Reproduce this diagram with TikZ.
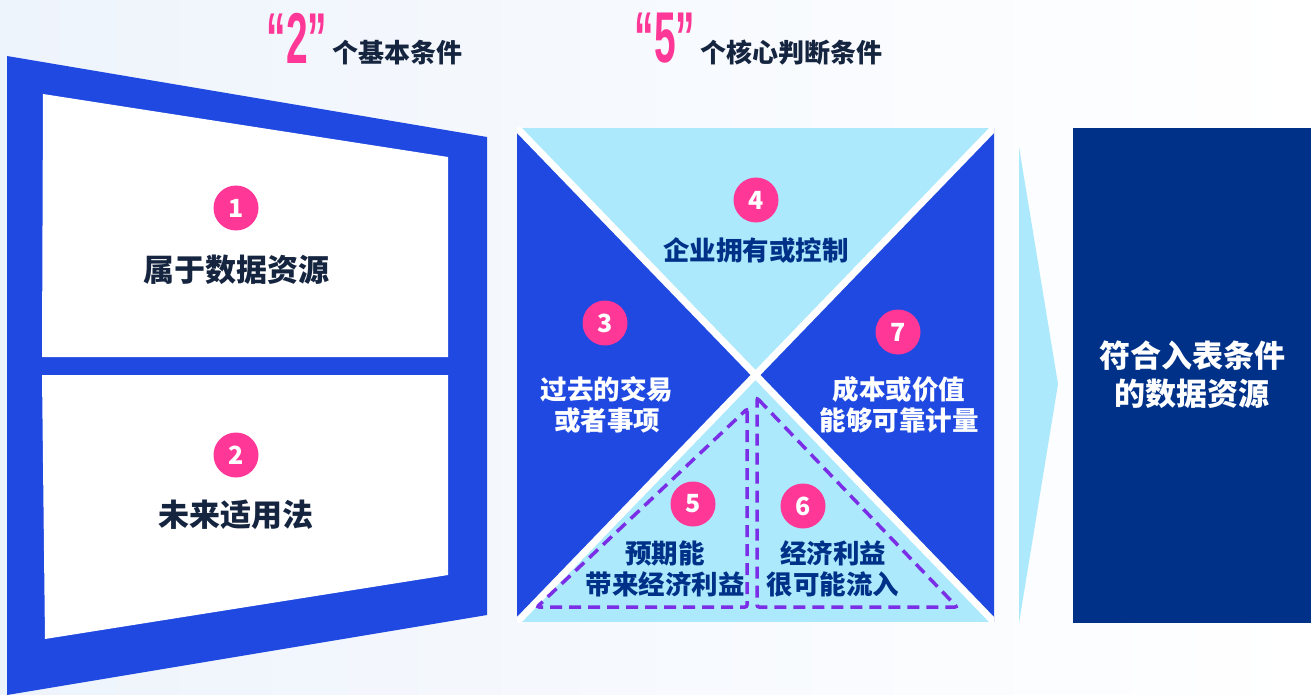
\documentclass[tikz,border=0pt]{standalone}
\usepackage{fontspec}
\newfontfamily\cjk{Noto Sans CJK SC}
\newfontfamily\numf{Liberation Sans}
\definecolor{frameblue}{HTML}{1F49E0}
\definecolor{lightblue}{HTML}{ADE9FC}
\definecolor{navybox}{HTML}{003189}
\definecolor{mypink}{HTML}{FF3797}
\definecolor{darktext}{HTML}{15253F}
\definecolor{dashpurple}{HTML}{7A2FE6}
\definecolor{bgleft}{HTML}{EEF4FC}
\begin{document}
\begin{tikzpicture}[x=1pt,y=-1pt,
  numdot/.style={circle, fill=mypink, minimum size=45pt, inner sep=0pt, text=white,
    font=\cjk\bfseries\fontsize{25}{25}\selectfont},
  paneltext/.style={font=\cjk\bfseries\fontsize{31}{38}\selectfont, text=darktext, align=center, inner sep=0pt},
  sqtext/.style={font=\cjk\bfseries\fontsize{26.5}{31.5}\selectfont, text=white, align=center, inner sep=0pt},
  sqdark/.style={sqtext, text=navybox},
  titletext/.style={font=\cjk\bfseries\fontsize{26}{26}\selectfont, text=darktext, inner sep=0pt, anchor=base west},
  bignum/.style={font=\numf\bfseries\fontsize{72}{72}\selectfont, text=mypink, inner sep=0pt},
  dashtri/.style={draw=dashpurple, line width=3.5pt, dash pattern=on 12pt off 7pt, rounded corners=2pt}
]
\useasboundingbox (0,0) rectangle (1311,695);
% background
\fill[left color=bgleft, right color=white] (0,0) rectangle (1311,695);

% titles
\node[bignum] (n2) at (297,38) {\scalebox{0.54}[1]{“2”}};
\node[titletext] (title2) at (332,63) {个基本条件};
\node[bignum] (n5) at (665,38) {\scalebox{0.54}[1]{“5”}};
\node[titletext] (title5) at (700,63) {个核心判断条件};

% left frame
\fill[frameblue] (7,56) -- (487,137) -- (487,615) -- (7,695) -- cycle;
\fill[white] (43,94) -- (448,157) -- (448,357) -- (42,357) -- cycle;
\fill[white] (42,375) -- (448,375) -- (448,575) -- (45,639) -- cycle;
\node[numdot] (c1) at (236,208) {1};
\node[paneltext] (t1) at (236,270) {属于数据资源};
\node[numdot] (c2) at (236,455) {2};
\node[paneltext] (t2) at (236,515) {未来适用法};

% square with X
\fill[lightblue] (517,128) rectangle (994,622);
\fill[frameblue] (517,128) -- (755.5,375) -- (517,622) -- cycle;
\fill[frameblue] (994,128) -- (755.5,375) -- (994,622) -- cycle;
\begin{scope}
  \clip (517,128) rectangle (994,622);
  \draw[white, line width=7pt] (517,128) -- (994,622);
  \draw[white, line width=7pt] (994,128) -- (517,622);
\end{scope}

% dashed triangles
\draw[dashtri] (747,409) -- (747,607) -- (537,607) -- cycle;
\draw[dashtri] (757,398) -- (957,607) -- (757,607) -- cycle;

\node[numdot] (c3) at (605,323) {3};
\node[sqtext] (t3) at (607,405) {过去的交易\\或者事项};
\node[numdot] (c4) at (756,200) {4};
\node[sqdark] (t4) at (756,250) {企业拥有或控制};
\node[numdot] (c7) at (898,332) {7};
\node[sqtext] (t7) at (899,405) {成本或价值\\能够可靠计量};
\node[numdot] (c5) at (693,504) {5};
\node[sqdark] (t5) at (665,569) {预期能\\带来经济利益};
\node[numdot] (c6) at (803,506) {6};
\node[sqdark] (t6) at (833,569) {经济利益\\很可能流入};

% chevron
\fill[lightblue] (1019,147) -- (1058,384) -- (1019,623) -- cycle;

% result box
\fill[navybox] (1073,128) rectangle (1311,623);
\node[font=\cjk\bfseries\fontsize{31}{38}\selectfont, text=white, align=center, inner sep=0pt] (res) at (1192,375) {符合入表条件\\的数据资源};
\end{tikzpicture}
\end{document}
